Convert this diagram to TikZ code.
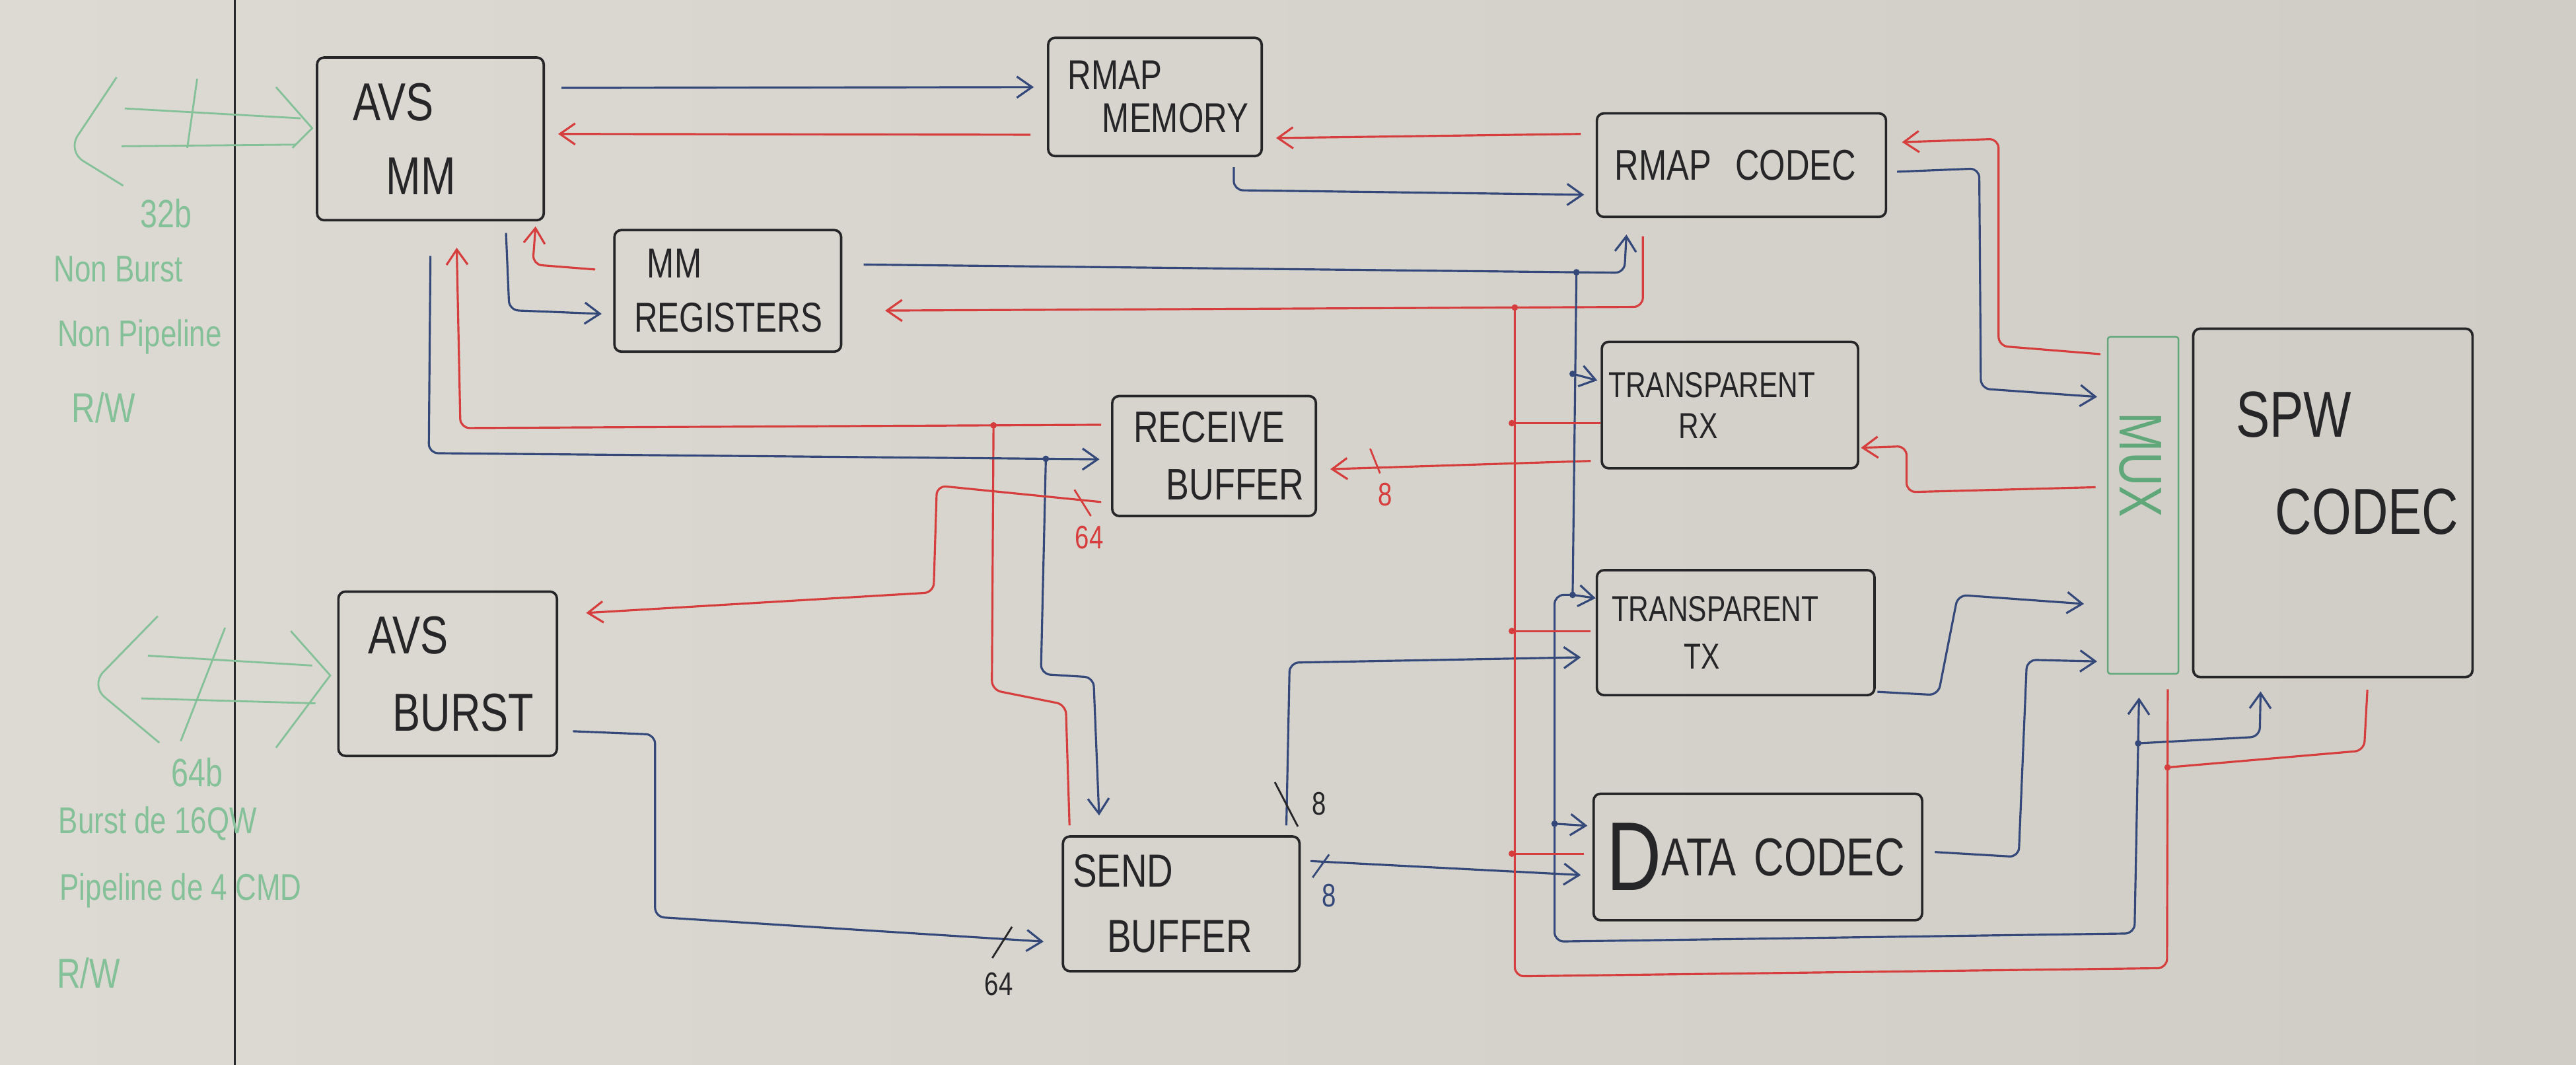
\documentclass[tikz,border=0pt]{standalone}
\usepackage{fontspec}
\newfontfamily\hand[FakeStretch=0.78]{Liberation Sans}
\usetikzlibrary{positioning, arrows.meta}

\newlength{\bpx}
\setlength{\bpx}{0.24872mm}

\definecolor{boardL}{RGB}{221,218,211}
\definecolor{boardR}{RGB}{207,205,198}
\definecolor{ink}{RGB}{38,38,40}
\definecolor{inkblue}{RGB}{52,72,122}
\definecolor{inkred}{RGB}{214,62,62}
\definecolor{inkgreen}{RGB}{96,168,122}
\definecolor{fadegreen}{RGB}{132,192,152}

\tikzset{
  block/.style={draw=ink, line width=1.05pt, rounded corners=3pt, align=left, inner sep=0pt, text=ink},
  bl/.style={draw=inkblue, line width=0.9pt, rounded corners=4pt},
  rd/.style={draw=inkred, line width=0.9pt, rounded corners=4pt},
  width label/.style={font=\hand\fontsize{14}{14}\selectfont, inner sep=1pt},
  note/.style={text=fadegreen, font=\hand\fontsize{16}{16}\selectfont, inner sep=0pt},
}

\begin{document}
\begin{tikzpicture}[x=\bpx, y=-\bpx, >={Straight Barb[length=2.3mm,width=3.2mm]}]
    % Board
    \fill[left color=boardL, right color=boardR] (0,0) rectangle (1568,648);
    \useasboundingbox (0,0) rectangle (1568,648);
    \draw[ink, line width=0.9pt] (143,0) -- (143,648);

    % Old notes (green)
    \begin{scope}[draw=fadegreen, line width=0.8pt]
      \draw[rounded corners=8pt] (71,47) -- (41,92) -- (75,113);
      \draw (76,66) -- (183,72);
      \draw (74,89) -- (180,88);
      \draw (168,53) -- (190,78) -- (178,90);
      \draw (120,48) -- (114,90);
      \draw[rounded corners=8pt] (96,375) -- (55,417) -- (97,452);
      \draw (90,399) -- (190,405);
      \draw (86,425) -- (192,428);
      \draw (177,384) -- (201,411) -- (168,455);
      \draw (137,382) -- (110,451);
    \end{scope}
    \node[note, font=\hand\fontsize{17}{17}\selectfont] (n32) at (101,130) {32b};
    \node[note] (nburst) at (72,164) {Non Burst};
    \node[note] (npipe) at (85,205) {Non Pipeline};
    \node[note, font=\hand\fontsize{18}{18}\selectfont] (nrw) at (63,248) {R/W};
    \node[note, font=\hand\fontsize{17}{17}\selectfont] (n64) at (120,470) {64b};
    \node[note] (nburst16) at (96,501) {Burst de 16QW};
    \node[note] (npipe4) at (110,542) {Pipeline de 4 CMD};
    \node[note, font=\hand\fontsize{18}{18}\selectfont] (nrw2) at (54,592) {R/W};

    % Blocks
    \node[block, minimum width=138\bpx, minimum height=99\bpx, text width=138\bpx,
          font=\hand\fontsize{23}{32}\selectfont] (avsmm) at (262,84.5)
          {\hspace*{22\bpx}AVS\\\hspace*{42\bpx}MM};
    \node[block, minimum width=130\bpx, minimum height=72\bpx, text width=130\bpx,
          font=\hand\fontsize{18}{18.4}\selectfont] (rmapmem) at (703,59)
          {\hspace*{12\bpx}RMAP\\\hspace*{33\bpx}MEMORY};
    \node[block, minimum width=138\bpx, minimum height=74\bpx, text width=138\bpx,
          font=\hand\fontsize{18}{23.3}\selectfont] (mmreg) at (443,177)
          {\hspace*{20\bpx}MM\\\hspace*{12\bpx}REGISTERS};
    \node[block, minimum width=176\bpx, minimum height=63\bpx, text width=176\bpx,
          font=\hand\fontsize{18.5}{20}\selectfont] (rmapcodec) at (1060,100.5)
          {\hspace*{11\bpx}RMAP\hspace{0.55em}CODEC};
    \node[block, minimum width=124\bpx, minimum height=73\bpx, text width=124\bpx,
          font=\hand\fontsize{19}{24.8}\selectfont] (rcvbuf) at (739,277.5)
          {\hspace*{13\bpx}RECEIVE\\\hspace*{33\bpx}BUFFER};
    \node[block, minimum width=156\bpx, minimum height=77\bpx, text width=156\bpx,
          font=\hand\fontsize{15.5}{17.7}\selectfont] (trx) at (1053,246.5)
          {\hspace*{4\bpx}TRANSPARENT\\\hspace*{47\bpx}RX};
    \node[block, minimum width=169\bpx, minimum height=76\bpx, text width=169\bpx,
          font=\hand\fontsize{15.5}{20.5}\selectfont] (ttx) at (1056.5,385)
          {\hspace*{9\bpx}TRANSPARENT\\\hspace*{53\bpx}TX};
    \node[block, minimum width=200\bpx, minimum height=77\bpx, text width=200\bpx,
          font=\hand\fontsize{23}{23}\selectfont] (datacodec) at (1070,521.5)
          {\hspace*{8\bpx}\raisebox{-9\bpx}{\fontsize{42}{42}\selectfont D}ATA~CODEC};
    \node[block, minimum width=133\bpx, minimum height=100\bpx, text width=133\bpx,
          font=\hand\fontsize{23}{33.3}\selectfont] (avsburst) at (272.5,410)
          {\hspace*{18\bpx}AVS\\\hspace*{33\bpx}BURST};
    \node[block, minimum width=144\bpx, minimum height=82\bpx, text width=144\bpx,
          font=\hand\fontsize{20}{28.3}\selectfont] (sendbuf) at (719,550)
          {\hspace*{6\bpx}SEND\\\hspace*{27\bpx}BUFFER};
    \node[block, minimum width=170\bpx, minimum height=212\bpx, text width=170\bpx,
          text depth=76pt, font=\hand\fontsize{28}{41.7}\selectfont] (spw) at (1420,306)
          {\hspace*{26\bpx}SPW\\\hspace*{50\bpx}CODEC};
    \node[block, draw=inkgreen, line width=0.7pt, rounded corners=1pt,
          minimum width=43\bpx, minimum height=205\bpx] (mux) at (1304.5,307.5) {};
    \node[rotate=-90, text=inkgreen, font=\hand\fontsize{26}{26}\selectfont] (muxlbl) at (1303,283) {MUX};

    % AVS MM <-> RMAP MEMORY <-> RMAP CODEC
    \draw[bl,->] ([shift={(10,-31)}]avsmm.east) -- ([shift={(-8,-6)}]rmapmem.west);
    \draw[rd,->] ([shift={(-10,23)}]rmapmem.west) -- ([shift={(8,-3)}]avsmm.east);
    \draw[rd,->] ([shift={(-9,-19)}]rmapcodec.west) -- ([shift={(8,25)}]rmapmem.east);
    \draw[bl,->] ([shift={(48,6)}]rmapmem.south) -- ++(0,14) -- ([shift={(-7,18)}]rmapcodec.west);

    % RMAP CODEC <-> MUX
    \draw[rd,->] ([shift={(-4,11)}]mux.north west) -- ++(-62,-5) -- ++(0,-126) -- ([shift={(9,-14)}]rmapcodec.east);
    \draw[bl,->] ([shift={(6,4)}]rmapcodec.east) -- ++(50,-2) -- ++(1,134) -- ([shift={(-6,-66)}]mux.west);

    % MM REGISTERS <-> RMAP CODEC
    \draw[bl,->] ([shift={(13,-16)}]mmreg.east) -- coordinate[pos=0.937] (bj0) ++(463,5)
                 -- ([shift={(-70,10)}]rmapcodec.south);
    \draw[rd,->] ([shift={(-60,11)}]rmapcodec.south) -- ++(0,43)
                 -- coordinate[pos=0.169] (rj0) ([shift={(26,12)}]mmreg.east);

    % AVS MM <-> MM REGISTERS
    \draw[bl,->] ([shift={(46,7)}]avsmm.south) -- ++(2,47) -- ([shift={(-7,14)}]mmreg.west);
    \draw[rd,->] ([shift={(-11,-13)}]mmreg.west) -- ++(-38,-3) -- ([shift={(64,3)}]avsmm.south);

    % Buffers <-> AVS MM
    \draw[rd,->] ([shift={(-6,-19)}]rcvbuf.west) -- coordinate[pos=0.168] (rj1) ++(-390,2)
                 -- ([shift={(16,16)}]avsmm.south);
    \draw[rd] (rj1) -- ++(-1,161) -- ++(45,9) -- ([shift={(-68,-6)}]sendbuf.north);
    \draw[bl,->] ([shift={(0,21)}]avsmm.south) -- ++(-1,120)
                 -- coordinate[pos=0.92] (bj1) ([shift={(-7,2)}]rcvbuf.west);
    \draw[bl,->] (bj1) -- ++(-3,131) -- ++(32,2) -- ([shift={(-50,-12)}]sendbuf.north);

    % Data paths with widths
    \draw[rd,->] ([shift={(-6,28)}]rcvbuf.west) -- ++(-100,-10) -- ++(-2,65) -- ([shift={(17,-37)}]avsburst.east);
    \draw[rd,->] ([shift={(-6,34)}]trx.west) -- ([shift={(8,8)}]rcvbuf.east);
    \draw[rd,->] ([shift={(-7,-11)}]mux.west) -- ++(-115,3) -- ++(0,-28) -- ([shift={(1,26)}]trx.east);
    \draw[bl,->] ([shift={(9,35)}]avsburst.east) -- ++(50,2) -- ++(0,111) -- ([shift={(-11,23)}]sendbuf.west);
    \draw[bl,->] ([shift={(6,-26)}]sendbuf.east) -- ([shift={(-7,11)}]datacodec.west);
    \draw[bl,->] ([shift={(64,-6)}]sendbuf.north) -- ++(2,-99) -- ([shift={(-9,15)}]ttx.west);
    \draw[bl,->] ([shift={(1,36)}]ttx.east) -- ++(37,2) -- ++(12,-61) -- ([shift={(-14,60)}]mux.west);
    \draw[bl,->] ([shift={(7,-3)}]datacodec.east) -- ++(51,3) -- ++(5,-120) -- ([shift={(-6,95)}]mux.west);

    % Width marks
    \draw[inkred, line width=0.8pt] (654,298) -- (664,314);
    \node[width label, text=inkred] (w64r) at (663,327) {64};
    \draw[inkred, line width=0.8pt] (834,273) -- (840,288);
    \node[width label, text=inkred] (w8r) at (843,301) {8};
    \draw[ink, line width=0.8pt] (604,583) -- (616,564);
    \node[width label, text=ink] (w64) at (608,599) {64};
    \draw[ink, line width=0.8pt] (776,476) -- (790,503);
    \node[width label, text=ink] (w8top) at (803,489) {8};
    \draw[inkblue, line width=0.8pt] (799,534) -- (809,520);
    \node[width label, text=inkblue] (w8right) at (809,545) {8};

    % Control bus (blue)
    \coordinate (bj2) at ([shift={(-17,-19)}]trx.west);
    \coordinate (bj3) at ([shift={(-14,-23)}]ttx.west);
    \draw[bl] (bj0) -- (bj3);
    \draw[bl,->] (bj2) -- ([shift={(-2,-15)}]trx.west);
    \draw[bl,->] (bj3) -- ([shift={(0,-21)}]ttx.west);
    \draw[bl,->] (bj3) -- ++(-11,0) -- coordinate[pos=0.66] (bj4) ++(0,211) -- ++(353,-5)
                 -- coordinate[pos=0.806] (bj5) ([shift={(-2.5,14)}]mux.south);
    \draw[bl,->] (bj4) -- ([shift={(-3,-19)}]datacodec.west);
    \draw[bl,->] (bj5) -- ++(74,-4) -- ([shift={(-44,8)}]spw.south);

    % Status bus (red)
    \draw[rd] (rj0) -- ++(0,407) -- ++(397,-5) -- coordinate[pos=0.72] (rj4) ([shift={(15,9)}]mux.south);
    \foreach \b/\dx/\dy/\l in {trx/0/11/54, ttx/-3/-1/48, datacodec/-5/-2/44}
      \draw[rd] ([shift={(\dx,\dy)}]\b.west) -- ++(-\l,0) coordinate (rj-\b);
    \draw[rd] ([shift={(21,7)}]spw.south) -- ++(-2,37) -- (rj4);

    % Junction dots
    \foreach \c in {rj0,rj1,rj4,rj-trx,rj-ttx,rj-datacodec}
      \fill[inkred] (\c) circle (1.4pt);
    \foreach \c in {bj0,bj1,bj2,bj3,bj4,bj5}
      \fill[inkblue] (\c) circle (1.4pt);
\end{tikzpicture}
\end{document}
